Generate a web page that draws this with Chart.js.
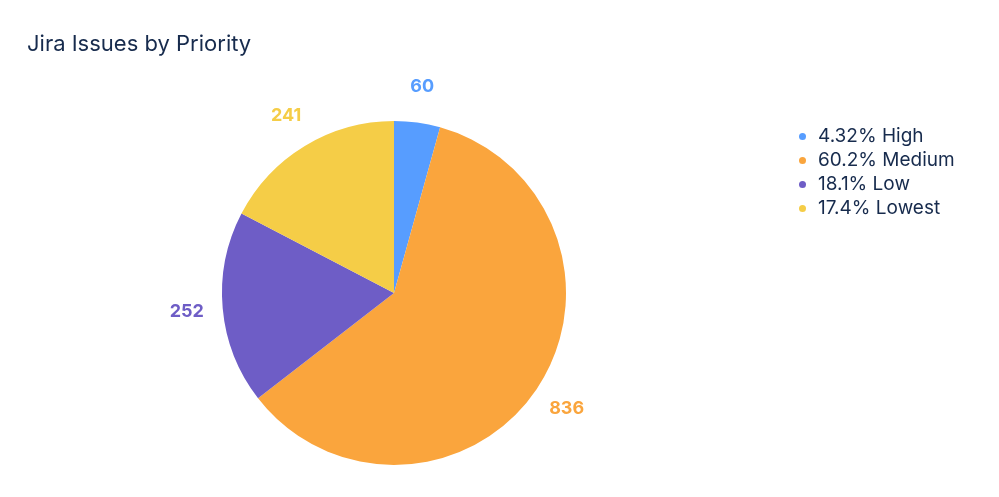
<!DOCTYPE html>
<html>
<head>
<meta charset="utf-8">
<script src="https://cdn.jsdelivr.net/npm/chart.js@4/dist/chart.umd.min.js"></script>
<style>
  html, body { margin: 0; padding: 0; background: #ffffff; }
  #wrap { position: relative; width: 999px; height: 497px; }
  #legend { position: absolute; left: 796px; top: 124px; font-family: Inter, "Noto Sans", sans-serif; font-size: 19px; color: #172B4D; }
  .row { height: 24px; line-height: 24px; display: flex; align-items: center; white-space: nowrap; }
  .dot { width: 7px; height: 7px; border-radius: 50%; margin-left: 3px; margin-right: 12px; }
</style>
</head>
<body>
<div id="wrap">
  <canvas id="c" width="999" height="497"></canvas>
  <div id="legend"></div>
</div>
<script>
const categories = ["High", "Medium", "Low", "Lowest"];
const issueCounts = [60, 836, 252, 241];
const sliceColors = ["#579DFF", "#FAA53D", "#6E5DC6", "#F5CD47"];
const chartTitle = "Jira Issues by Priority";

const total = issueCounts.reduce((a, b) => a + b, 0);

const outsideLabels = {
  id: "outsideLabels",
  afterDatasetsDraw(chart) {
    const ctx = chart.ctx;
    const meta = chart.getDatasetMeta(0);
    ctx.save();
    ctx.font = "bold 18px Inter, 'Noto Sans', sans-serif";
    ctx.textAlign = "center";
    ctx.textBaseline = "middle";
    meta.data.forEach((arc, i) => {
      const p = arc.getProps(["x", "y", "startAngle", "endAngle", "outerRadius"], true);
      const mid = (p.startAngle + p.endAngle) / 2;
      const r = p.outerRadius + 36;
      ctx.fillStyle = sliceColors[i];
      ctx.fillText(String(issueCounts[i]), p.x + Math.cos(mid) * r, p.y + Math.sin(mid) * r);
    });
    ctx.restore();
  }
};

new Chart(document.getElementById("c"), {
  type: "pie",
  data: {
    labels: categories,
    datasets: [{
      data: issueCounts,
      backgroundColor: sliceColors,
      borderWidth: 0
    }]
  },
  options: {
    responsive: false,
    animation: false,
    layout: { padding: { left: 27, right: 238, top: 0, bottom: 32 } },
    plugins: {
      legend: { display: false },
      tooltip: { enabled: false },
      title: {
        display: true,
        text: chartTitle,
        align: "start",
        color: "#172B4D",
        font: { family: "Inter, 'Noto Sans', sans-serif", size: 22, weight: "normal", lineHeight: 1.2 },
        padding: { top: 31, bottom: 63.6 }
      }
    }
  },
  plugins: [outsideLabels]
});

const legendEl = document.getElementById("legend");
categories.forEach((name, i) => {
  const pct = (issueCounts[i] / total * 100).toPrecision(3);
  const row = document.createElement("div");
  row.className = "row";
  const dot = document.createElement("span");
  dot.className = "dot";
  dot.style.background = sliceColors[i];
  const txt = document.createElement("span");
  txt.textContent = pct + "% " + name;
  row.appendChild(dot);
  row.appendChild(txt);
  legendEl.appendChild(row);
});
</script>
</body>
</html>
